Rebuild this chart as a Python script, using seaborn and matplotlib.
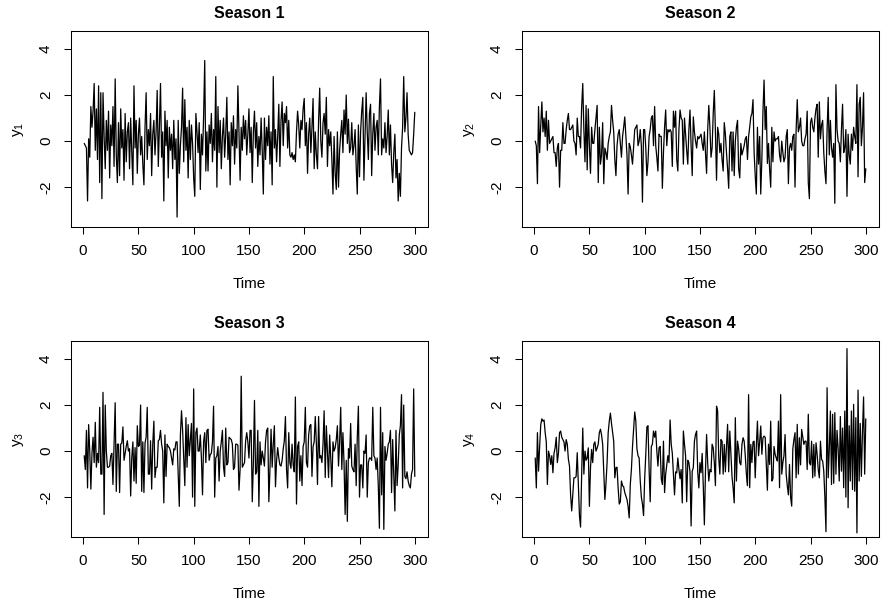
import matplotlib
matplotlib.use("Agg")
import matplotlib.pyplot as plt
import numpy as np
import pandas as pd
import seaborn as sns

# ---------------- data ----------------
time = list(range(1, 301))

season1 = [
    -0.1, -0.2, -0.3, -2.6, 0.1, -0.7, 1.5, 0.6, 1.3, 2.5,
    -0.4, 1.4, -0.8, 2.4, -1.8, 2.1, -2.5, 2.1, 0.2, -1.2,
    0.9, -0.4, 1.3, -1.6, 0.7, -0.2, 1.5, -1.1, 2.7, -0.6,
    -1.8, 0.8, -1.5, 1.4, -0.3, 0.5, -1.7, 1.2, -0.9, 0.4,
    0.8, -1.2, 1.0, -0.5, -1.9, 2.4, -0.3, 0.9, -1.4, 0.3,
    1.0, -0.6, 0.2, -1.0, -1.9, 0.6, 2.1, -0.8, 0.5, -0.2,
    1.2, -1.5, 0.3, 0.9, -0.6, 0.4, 2.2, -1.1, 0.6, 2.5,
    -0.7, 0.4, -2.6, 1.3, -0.2, 0.9, -1.6, 0.6, -0.4, 0.3,
    -1.2, 0.9, -0.8, 0.1, -3.3, 0.9, -1.4, -0.2, 0.6, 2.3,
    -0.9, 1.8, -0.4, 0.6, -1.6, 0.9, -0.8, 0.7, -0.1, -1.6,
    -2.4, 1.2, 0.4, -0.5, 0.8, -2.1, 0.3, -0.6, 1.1, 3.5,
    -1.3, 0.4, -1.3, 0.7, -0.1, 1.2, -0.9, 0.5, -0.4, 2.8,
    -2.0, 1.5, -0.5, 0.9, -1.2, 0.2, 1.0, -0.7, 0.3, 1.9,
    -0.8, 0.4, -1.9, 0.8, -0.2, 1.1, -1.0, 0.5, -0.3, 2.4,
    0.3, -1.7, 0.6, -0.4, 1.1, 0.1, 0.9, -0.6, 0.3, 1.4,
    -0.5, 0.6, -1.8, 0.4, 1.3, -0.3, 0.8, -1.1, 0.2, -0.6,
    1.0, -0.4, -2.3, 1.0, -0.8, 0.6, -0.2, 1.1, -1.0, 0.4,
    -1.9, 2.8, -0.3, 0.5, -0.9, 0.2, 1.6, -1.1, 0.9, 1.7,
    -0.2, 1.2, 0.8, 1.5, -0.3, 0.9, -0.6, -0.7, -0.5, -0.8,
    -0.6, -0.9, 0.4, 1.3, 0.7, -0.3, 0.9, 0.5, 1.4, 1.85,
    -0.2, 0.8, -1.4, 0.3, 1.0, -0.5, 0.6, 1.85, -1.2, 0.4,
    -0.6, -1.2, 0.9, 2.3, 0.0, -0.7, 0.8, 1.2, 0.3, 1.9,
    -1.1, 0.5, -0.2, 0.4, -0.8, -2.3, 0.2, -1.4, -2.1, 0.4,
    -2.0, -0.4, 0.3, 0.9, -0.5, 1.35, 0.3, 2.0, -0.1, 0.95,
    -0.5, -0.3, 0.8, -0.6, -0.2, 0.5, -1.1, -2.3, 0.7, -1.55,
    0.4, 1.3, 1.9, -1.7, 0.2, 2.1, 0.4, -0.8, 1.2, 1.6,
    -1.5, 0.3, 1.2, -0.4, 0.6, 0.9, -0.6, 1.5, 2.7, -0.6,
    0.1, -0.3, 0.8, -0.5, 0.2, 1.35, -0.6, 0.7, -1.0, -1.8,
    -0.5, 0.3, -1.6, -0.8, -2.6, -1.4, -2.4, -0.3, 0.6, 2.8,
    0.4, 1.0, 2.1, 0.3, -0.4, -0.5, -0.6, -0.5, 0.3, 1.25,
]

season2 = [
    0.0, -0.2, -1.85, 1.5, -0.5, 0.7, 1.7, 0.4, 1.0, 0.2,
    1.3, -0.4, 0.9, -0.1, 0.0, 0.1, 0.2, -0.5, -0.5, -1.1,
    -0.3, -0.1, -2.0, -0.4, -0.4, 0.8, -0.1, -0.1, 0.5, 0.9,
    1.2, 0.5, 0.5, 0.6, 0.7, 0.0, -0.1, -0.6, 1.0, 0.2,
    0.2, -0.3, 1.5, 2.5, 0.5, -0.9, 1.55, -1.25, 1.4, -0.2,
    -1.4, 0.6, -0.1, -0.1, 0.5, 1.0, 1.55, -1.8, 0.6, -1.0,
    -0.6, 0.8, -1.85, -0.3, -0.5, -0.8, -0.1, 0.2, 0.4, 1.55,
    0.9, 0.4, -0.8, -1.5, -0.2, 0.3, 0.5, -0.1, -0.7, 0.2,
    0.6, 1.05, 0.2, -0.6, -2.3, -0.1, -0.25, -0.6, -1.0, -0.25,
    0.5, 0.6, 0.7, -0.2, 0.0, 0.5, -0.2, -2.65, 0.5, 0.5,
    -0.3, -1.5, -0.9, 0.2, 0.5, 1.0, 1.1, -0.2, 1.5, -0.2,
    -0.7, -1.3, 0.3, 0.2, 0.2, -2.05, -0.5, 0.6, 1.35, -0.2,
    0.5, 0.4, 0.5, 0.4, -1.1, 1.3, 0.6, 1.3, -0.8, -1.3,
    0.5, 1.35, 1.0, 0.9, -1.0, 1.0, 0.3, -0.4, -1.0, 0.5,
    1.35, -0.2, -1.5, 1.05, 0.4, 0.0, -0.3, 0.2, 0.1, 0.2,
    0.3, -0.1, -0.4, 0.4, -0.5, -1.4, 0.5, 1.55, 0.6, -0.7,
    -0.3, 1.2, 2.2, 0.4, -1.7, 0.6, 0.3, -0.5, -0.1, -0.8,
    -1.3, 0.8, 0.3, -0.5, -1.2, -2.05, 0.2, 0.4, -1.3, 0.4,
    -1.5, 0.0, 0.6, 0.9, -1.2, -1.6, -0.1, -0.6, -0.4, -0.2,
    0.1, 0.2, -0.8, 0.2, 0.6, 1.05, 1.2, 1.8, -0.5, -1.5,
    -2.3, 0.6, -1.0, 0.2, -2.3, -0.8, 1.3, 2.65, 0.5, 1.5,
    -0.97, -0.1, -1.2, -2.0, 0.6, -0.9, 0.4, 0.0, 0.1, 0.1,
    0.2, -0.6, -0.9, 0.0, -0.5, -0.9, -0.7, 0.2, 0.5, -1.85,
    -0.3, -0.1, -0.4, 0.2, 0.3, -2.0, 0.5, 1.8, 0.4, 0.6,
    1.0, 0.0, -0.2, -0.2, 0.1, 0.3, 1.3, -1.8, -2.5, 0.8,
    1.0, 0.6, 0.4, 1.0, 1.4, 1.6, -0.7, 1.7, 0.1, 0.7,
    0.9, -0.5, -1.3, -1.85, 0.5, 1.9, -0.6, 0.9, -0.3, -0.7,
    -0.1, -2.7, 2.45, 0.5, 0.0, -0.1, -0.9, 0.5, 1.6, -0.5,
    -0.3, 0.5, -2.4, 0.3, -0.6, -1.0, 0.3, -0.4, 0.6, 0.2,
    -0.1, 2.45, -1.55, 1.6, 1.9, -0.2, 0.6, 2.1, -1.8, -1.2,
]

season3 = [
    -0.2, -0.8, 0.9, -1.6, 1.15, 0.0, -1.65, -0.1, 0.6, -0.5,
    1.25, -0.7, -0.1, -0.5, 1.9, -1.0, -1.0, 2.55, -2.75, 2.0,
    0.0, -0.7, -0.7, -0.65, -0.2, -0.1, -1.45, 0.3, 2.1, -1.75,
    0.3, 0.3, -1.8, 0.3, 0.35, 1.05, -0.4, -0.1, 0.2, 0.45,
    0.0, 0.1, -1.95, -0.3, 0.4, -1.3, 0.15, -1.4, 1.1, 0.2,
    0.25, 2.0, -1.75, 0.4, -1.8, 0.35, 0.6, 1.9, -1.0, -1.0,
    0.45, -1.65, 0.3, 1.3, -1.15, -0.7, -0.7, 0.45, 0.5, 0.9,
    0.3, 0.0, -2.25, 0.7, -1.1, 0.3, 0.2, 0.15, 0.0, -0.3,
    -0.6, 0.1, 0.05, 0.4, 0.4, -1.0, -2.4, 0.7, 1.75, 0.9,
    -0.3, -1.5, 1.45, -0.7, 1.15, -0.2, 0.5, 1.2, -2.0, 2.7,
    -2.4, 0.8, 1.0, 0.0, 0.0, 0.7, -0.3, -1.9, 0.4, 0.8,
    -0.5, 0.9, 0.95, -0.4, -0.15, -0.1, 0.4, 1.95, -2.0, -0.3,
    -0.2, 0.2, -1.3, 0.0, 0.4, 0.9, -0.7, -1.1, 1.0, -0.6,
    -0.5, 0.6, 0.55, 0.5, 0.3, -0.8, -0.7, 0.3, 0.3, 0.25,
    -1.7, -0.8, 3.25, -0.7, -0.6, -0.5, 0.45, 0.8, 0.4, -0.3,
    0.9, 0.9, -2.2, -0.5, 2.2, -1.0, -0.9, 0.9, -2.4, 0.4,
    -0.6, 0.0, -0.3, -0.65, 0.4, 0.9, 1.0, -2.2, -0.8, 0.95,
    -0.7, 0.3, 1.1, -1.55, -0.4, 0.15, -0.3, -0.6, -0.65, -0.4,
    0.1, 0.45, 1.5, -0.8, -1.6, 0.8, -0.5, -0.75, 0.3, -0.6,
    -0.9, 2.35, -2.3, 0.2, 0.4, -1.3, -0.2, -1.5, 0.2, 0.4,
    1.9, -0.5, -0.7, 0.7, 1.1, 1.15, -1.1, 0.2, 0.4, 1.5,
    0.3, -1.45, 1.5, -0.3, -0.2, -0.5, 0.3, 1.75, -1.15, 1.1,
    0.0, -1.15, 0.7, -0.3, -1.55, 0.4, 0.0, 0.15, 0.5, 1.1,
    -0.65, 0.4, 1.9, -0.8, 0.8, -0.5, -2.75, -0.4, -3.05, 0.1,
    -0.3, 1.2, -0.65, -0.8, -0.9, 0.3, -1.5, 0.6, 1.95, -2.0,
    -0.6, -0.6, -1.6, 0.0, -0.1, 0.7, -2.0, -0.5, -0.3, -0.3,
    -0.4, 1.9, -0.2, -0.3, -0.8, -0.3, -1.5, -3.35, 1.9, -1.9,
    0.8, -3.4, 0.2, -0.4, -0.1, 0.3, 0.4, 0.9, -1.8, 0.5,
    -1.0, -2.6, 0.9, -1.5, -0.6, 0.7, 1.1, 2.45, -1.6, 2.0,
    -1.1, -1.2, -0.9, -1.3, -1.5, -1.6, -1.0, -0.8, 2.7, -1.1,
]

season4 = [
    -0.3, -1.6, 0.8, -0.87, 0.2, 1.15, 1.4, 1.3, 1.35, 0.8,
    0.4, -1.45, 0.0, -0.2, -0.58, -0.2, -0.94, -0.1, 0.14, 0.6,
    -0.5, -0.1, 0.8, 0.87, 0.6, 0.5, 0.4, 0.0, 0.5, 0.3,
    -0.35, -0.65, -1.9, -2.6, -1.9, -1.16, -1.16, -1.1, -0.07, -1.45,
    -2.8, -3.3, -1.0, 1.0, -1.0, 0.0, -0.4, -0.3, 0.14, -2.4,
    -0.72, 0.07, -0.5, 0.3, 0.4, 0.0, 0.14, 0.3, 0.8, 0.95,
    0.7, 0.3, -0.87, -2.1, -1.4, -0.5, 0.8, 1.3, 1.65, 1.2,
    0.8, 0.43, -1.16, -0.72, -0.7, -1.6, -2.3, -2.2, -1.3, -1.5,
    -1.55, -1.8, -1.95, -2.1, -2.4, -2.9, -1.45, -0.8, 0.2, 0.95,
    1.7, 1.3, 0.1, -0.2, -0.3, -1.3, -2.0, -2.3, -2.8, -1.2,
    -0.15, 1.05, 1.1, -0.8, -2.2, 0.2, 0.3, 0.87, 0.6, 0.87,
    0.0, -0.65, 0.14, 0.2, -1.2, -1.45, 0.43, -1.8, -1.0, -0.6,
    -0.2, -0.5, 1.35, 0.3, -0.1, -1.0, -1.9, -0.9, -0.95, -0.3,
    -0.8, -1.2, -0.8, -2.25, 0.87, 0.3, -0.2, -2.2, -0.4, -0.5,
    -0.9, -3.25, -0.87, -0.72, 0.43, 0.72, 0.87, -0.9, -1.6, -0.5,
    -0.94, -0.1, -1.5, -3.2, -0.87, 0.72, -0.5, -1.3, -0.8, -0.9,
    0.3, 0.14, -0.5, -1.5, 1.95, 1.74, -0.3, -1.0, 0.5, 0.43,
    -1.0, 0.29, -0.9, 0.2, 1.16, -0.9, 0.87, -0.14, -1.1, -1.6,
    -2.25, 1.45, -1.3, 0.43, 0.1, -0.5, -0.6, 0.29, 0.58, 0.43,
    -0.2, -1.0, -1.5, 2.45, -1.59, 0.29, -0.5, 0.4, 0.43, -1.16,
    0.2, 1.3, -0.2, 0.4, 1.09, -0.14, 0.58, 0.65, 0.6, -0.5,
    -1.7, 0.3, -0.58, 1.3, -1.3, -1.2, 0.2, -0.14, -0.3, -0.43,
    1.3, -1.59, 2.45, -1.0, -0.5, -0.2, 0.72, -1.0, -1.5, -1.9,
    -0.58, -2.0, -2.39, 0.1, 0.5, 0.8, -1.16, 1.16, -1.0, 0.58,
    -0.6, 0.94, 0.6, 0.29, 0.43, 0.43, -0.8, 1.6, -0.5, -0.6,
    0.43, -1.16, 0.29, -1.09, 0.36, -0.14, -0.8, -1.16, 0.43, -0.36,
    -0.43, -0.87, -2.0, -3.5, 2.75, -1.16, 0.1, 1.74, -1.45, 1.6,
    -1.4, 1.67, -1.0, 0.9, 0.1, -1.3, 1.5, -0.87, 1.0, -1.59,
    1.74, -2.0, 4.45, -2.46, 1.1, -1.3, 1.74, -1.67, 2.03, -1.74,
    1.45, -3.55, 2.65, -1.3, 1.2, -1.1, 0.8, 2.35, -1.0, 1.4,
]

titles = ["Season 1", "Season 2", "Season 3", "Season 4"]
ylabels = [r"$\mathregular{y_1}$", r"$\mathregular{y_2}$",
           r"$\mathregular{y_3}$", r"$\mathregular{y_4}$"]
xlabel = "Time"
xticks = [0, 50, 100, 150, 200, 250, 300]
yticks = [-2, 0, 2, 4]

# ---------------- style ----------------
sns.set_theme(style="ticks")
plt.rcParams["font.family"] = ["Liberation Sans", "DejaVu Sans"]
plt.rcParams["mathtext.fontset"] = "custom"
plt.rcParams["mathtext.rm"] = "Liberation Sans"
plt.rcParams["mathtext.it"] = "Liberation Sans:italic"
plt.rcParams["axes.edgecolor"] = "black"
plt.rcParams["axes.linewidth"] = 0.75
plt.rcParams["xtick.color"] = "black"
plt.rcParams["ytick.color"] = "black"
plt.rcParams["text.color"] = "black"
plt.rcParams["axes.labelcolor"] = "black"

W, H = 889, 608
fig = plt.figure(figsize=(W / 100, H / 100), dpi=100)

box_w, box_h = 357, 196
lefts = [71, 522]
tops = [31, 341]
positions = [(lefts[0], tops[0]), (lefts[1], tops[0]),
             (lefts[0], tops[1]), (lefts[1], tops[1])]

series = [season1, season2, season3, season4]
base_fs = 11

for i, (vals, (lx, ty)) in enumerate(zip(series, positions)):
    assert len(vals) == 300
    rect = [lx / W, (H - ty - box_h) / H, box_w / W, box_h / H]
    ax = fig.add_axes(rect)
    df = pd.DataFrame({"Time": time, "value": vals})
    sns.lineplot(data=df, x="Time", y="value", ax=ax, color="black",
                 linewidth=0.9, estimator=None)
    ax.set_xlim(-10.96, 311.96)
    ax.set_ylim(-3.73, 4.78)
    ax.set_xticks(xticks)
    ax.set_yticks(yticks)
    ax.set_xticklabels([str(t) for t in xticks], fontsize=base_fs)
    ax.set_yticklabels([str(t) for t in yticks],
                       fontsize=base_fs, rotation=90, va="center")
    ax.tick_params(axis="both", direction="out", length=5, width=0.75,
                   colors="black")
    ax.tick_params(axis="x", pad=7)
    ax.tick_params(axis="y", pad=8)
    for sp in ax.spines.values():
        sp.set_visible(True)
        sp.set_color("black")
        sp.set_linewidth(0.75)
    ax.set_title(titles[i], fontsize=11.5, fontweight="bold", pad=9)
    ax.set_xlabel(xlabel, fontsize=base_fs)
    ax.xaxis.set_label_coords(0.5, -0.255)
    ax.set_ylabel(ylabels[i], fontsize=base_fs)
    ax.yaxis.set_label_coords(-0.125, 0.5)
    ax.grid(False)

fig.savefig("out.png", dpi=100)
